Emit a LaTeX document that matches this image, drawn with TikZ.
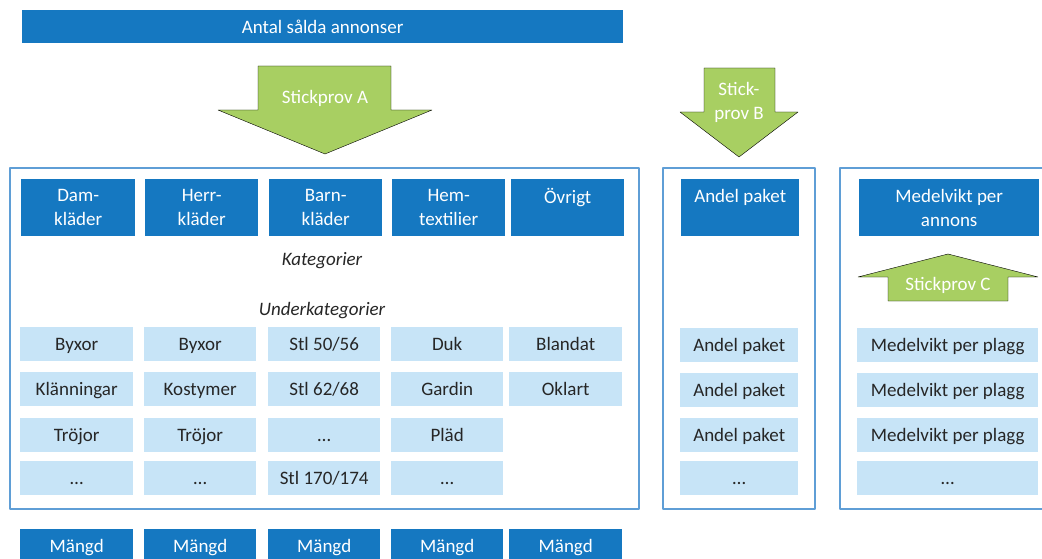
\documentclass[tikz,border=0pt]{standalone}
\usepackage{fontspec}
\setmainfont{Carlito}
\definecolor{morkbla}{RGB}{21,120,193}
\definecolor{ljusbla}{RGB}{199,228,247}
\definecolor{ramfarg}{RGB}{95,158,214}
\definecolor{pilgron}{RGB}{168,207,98}
\definecolor{textgra}{RGB}{38,38,38}

\begin{document}
\begin{tikzpicture}[x=1pt,y=-1pt,line join=round,
		mork/.style={fill=morkbla,text=white,inner sep=0pt,anchor=north west,align=center,minimum height=57pt,font=\fontsize{19}{24}\selectfont},
		ljus/.style={fill=ljusbla,text=textgra,inner sep=0pt,anchor=north west,minimum height=34pt,text height=15pt,text depth=2pt,font=\fontsize{19}{24}\selectfont},
		mangd/.style={fill=morkbla,text=white,inner sep=0pt,anchor=north west,minimum height=34pt,text height=15pt,text depth=2pt,font=\fontsize{19}{24}\selectfont},
		ram/.style={draw=ramfarg,line width=1.3pt},
		pil/.style={fill=pilgron},
		piltext/.style={text=white,align=center,font=\fontsize{19}{24}\selectfont},
		rubrik/.style={text=textgra,font=\fontsize{19}{24}\selectfont\itshape}]
		\useasboundingbox (0,0) rectangle (1042,559);
		% rubrik
		\node[mork,minimum width=601pt,minimum height=33pt] (antal) at (22,10) {Antal sålda annonser};
		% stickprov
		\draw[pil] (258,66) -- (391,66) -- (391,110) -- (432,110) -- (325,154) -- (218,110) -- (258,110) -- cycle;
		\node[piltext] (spA) at (325,98) {Stickprov A};
		\draw[pil] (704,68) -- (775,68) -- (775,112) -- (798,112) -- (739,157) -- (680,112) -- (704,112) -- cycle;
		\node[piltext] (spB) at (739,102) {Stick-\\prov B};
		% ramar
		\draw[ram] (10,168) rectangle (639,509);
		\draw[ram] (663,168) rectangle (815,509);
		\draw[ram] (840,168) rectangle (1052,509);
		% kategorier
		\node[mork,minimum width=114pt] (dam) at (21,179) {Dam-\\kläder};
		\node[mork,minimum width=113pt] (herr) at (145,179) {Herr-\\kläder};
		\node[mork,minimum width=113pt] (barn) at (269,179) {Barn-\\kläder};
		\node[mork,minimum width=113pt] (hem) at (392,179) {Hem-\\textilier};
		\node[mork,minimum width=113pt] (ovr) at (511,179) {Övrigt\\\mbox{}};
		\node[rubrik] (kat) at (322,261) {Kategorier};
		\node[rubrik] (ukat) at (322,311) {Underkategorier};
		% underkategorier
		\node[ljus,minimum width=113pt] (u11) at (20,327) {Byxor};
		\node[ljus,minimum width=113pt] (u21) at (20,372) {Klänningar};
		\node[ljus,minimum width=113pt] (u31) at (20,418) {Tröjor};
		\node[ljus,minimum width=113pt] (u41) at (20,461) {…};
		\node[ljus,minimum width=112pt] (u12) at (144,327) {Byxor};
		\node[ljus,minimum width=112pt] (u22) at (144,372) {Kostymer};
		\node[ljus,minimum width=112pt] (u32) at (144,418) {Tröjor};
		\node[ljus,minimum width=112pt] (u42) at (144,461) {…};
		\node[ljus,minimum width=112pt] (u13) at (268,327) {Stl 50/56};
		\node[ljus,minimum width=112pt] (u23) at (268,372) {Stl 62/68};
		\node[ljus,minimum width=112pt] (u33) at (268,418) {…};
		\node[ljus,minimum width=112pt] (u43) at (268,461) {Stl 170/174};
		\node[ljus,minimum width=112pt] (u14) at (391,327) {Duk};
		\node[ljus,minimum width=112pt] (u24) at (391,372) {Gardin};
		\node[ljus,minimum width=112pt] (u34) at (391,418) {Pläd};
		\node[ljus,minimum width=112pt] (u44) at (391,461) {…};
		\node[ljus,minimum width=113pt] (u15) at (509,327) {Blandat};
		\node[ljus,minimum width=113pt] (u25) at (509,372) {Oklart};
		% mangd
		\foreach \x/\w [count=\i] in {20/113,144/112,268/112,391/112,509/113}
			\node[mangd,minimum width=\w pt] (m\i) at (\x,529) {Mängd};
		% andel paket
		\node[mork,minimum width=118pt] (andel) at (681,179) {Andel paket\\\mbox{}};
		\foreach \y/\t [count=\i] in {328/Andel paket,373/Andel paket,418/Andel paket,461/…}
			\node[ljus,minimum width=118pt] (a\i) at (680,\y) {\t};
		% medelvikt
		\node[mork,minimum width=180pt] (medel) at (859,179) {Medelvikt per\\annons};
		\draw[pil] (888,301) -- (1008,301) -- (1008,277) -- (1038,277) -- (948,254) -- (858,277) -- (888,277) -- cycle;
		\node[piltext] (spC) at (948,285) {Stickprov C};
		\foreach \y/\t [count=\i] in {328/Medelvikt per plagg,373/Medelvikt per plagg,418/Medelvikt per plagg,461/…}
			\node[ljus,minimum width=181pt] (v\i) at (857,\y) {\t};
\end{tikzpicture}
\end{document}
